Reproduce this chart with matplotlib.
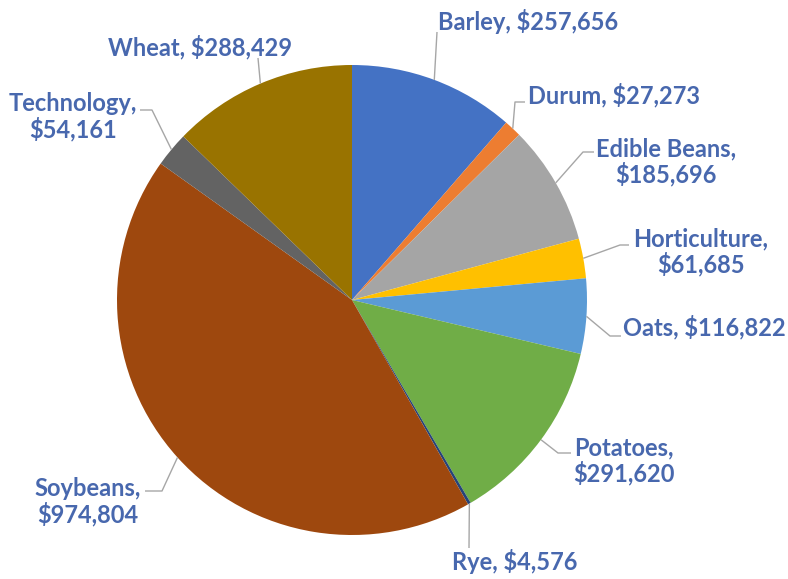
import matplotlib
matplotlib.use("Agg")
import matplotlib.pyplot as plt
import numpy as np

categories = ["Barley", "Durum", "Edible Beans", "Horticulture", "Oats",
              "Potatoes", "Rye", "Soybeans", "Technology", "Wheat"]
values = [257656, 27273, 185696, 61685, 116822, 291620, 4576, 974804, 54161, 288429]
label_texts = ["Barley, $257,656", "Durum, $27,273", "Edible Beans,\n$185,696",
               "Horticulture,\n$61,685", "Oats, $116,822", "Potatoes,\n$291,620",
               "Rye, $4,576", "Soybeans,\n$974,804", "Technology,\n$54,161",
               "Wheat, $288,429"]
colors = ["#4472C4", "#ED7D31", "#A5A5A5", "#FFC000", "#5B9BD5",
          "#70AD47", "#264478", "#9E480E", "#636363", "#997300"]

W, H = 788, 579
CX, CY, R = 352, 300, 235

fig = plt.figure(figsize=(W / 100, H / 100), dpi=100)
ax = fig.add_axes([0, 0, 1, 1])


def P(px, py):
    return ((px - CX) / R, (CY - py) / R)


wedges, _ = ax.pie(values, colors=colors, startangle=90, counterclock=False,
                   radius=1.0, center=(0, 0), frame=True,
                   wedgeprops=dict(linewidth=0))
ax.set_xlim(-CX / R, (W - CX) / R)
ax.set_ylim(-(H - CY) / R, CY / R)
ax.set_aspect("equal")
ax.axis("off")

# layout: (text x, text y, ha, elbow, stub end) in pixel coordinates
layout = [
    (438, 22, "left", (437, 32), None),
    (528, 95, "left", (515, 102), (525, 102)),
    (666, 162, "center", (583, 152), (594, 152)),
    (701, 252, "center", (620, 245), (629, 245)),
    (623, 327, "left", (610, 336), (621, 336)),
    (624, 461, "center", (558, 453), (571, 453)),
    (452, 562, "left", (469, 548), None),
    (88, 502, "center", (162, 491), (145, 491)),
    (73, 117, "center", (152, 110), (140, 110)),
    (108, 47, "left", (258, 58), None),
]

text_color = "#4868AE"
for w, txt, (tx, ty, ha, elbow, stub) in zip(wedges, label_texts, layout):
    mid = np.deg2rad((w.theta1 + w.theta2) / 2)
    ex, ey = np.cos(mid), np.sin(mid)
    pts = [(ex, ey), P(*elbow)]
    if stub is not None:
        pts.append(P(*stub))
    xs, ys = zip(*pts)
    ax.plot(xs, ys, color="#A6A6A6", lw=1.0, zorder=1, solid_capstyle="butt")
    x, y = P(tx, ty)
    ax.text(x, y, txt, ha=ha, va="center", multialignment="center",
            color=text_color, fontsize=17, fontweight="bold",
            family=["Lato", "DejaVu Sans"], linespacing=1.1)

fig.savefig("out.png", dpi=100)
